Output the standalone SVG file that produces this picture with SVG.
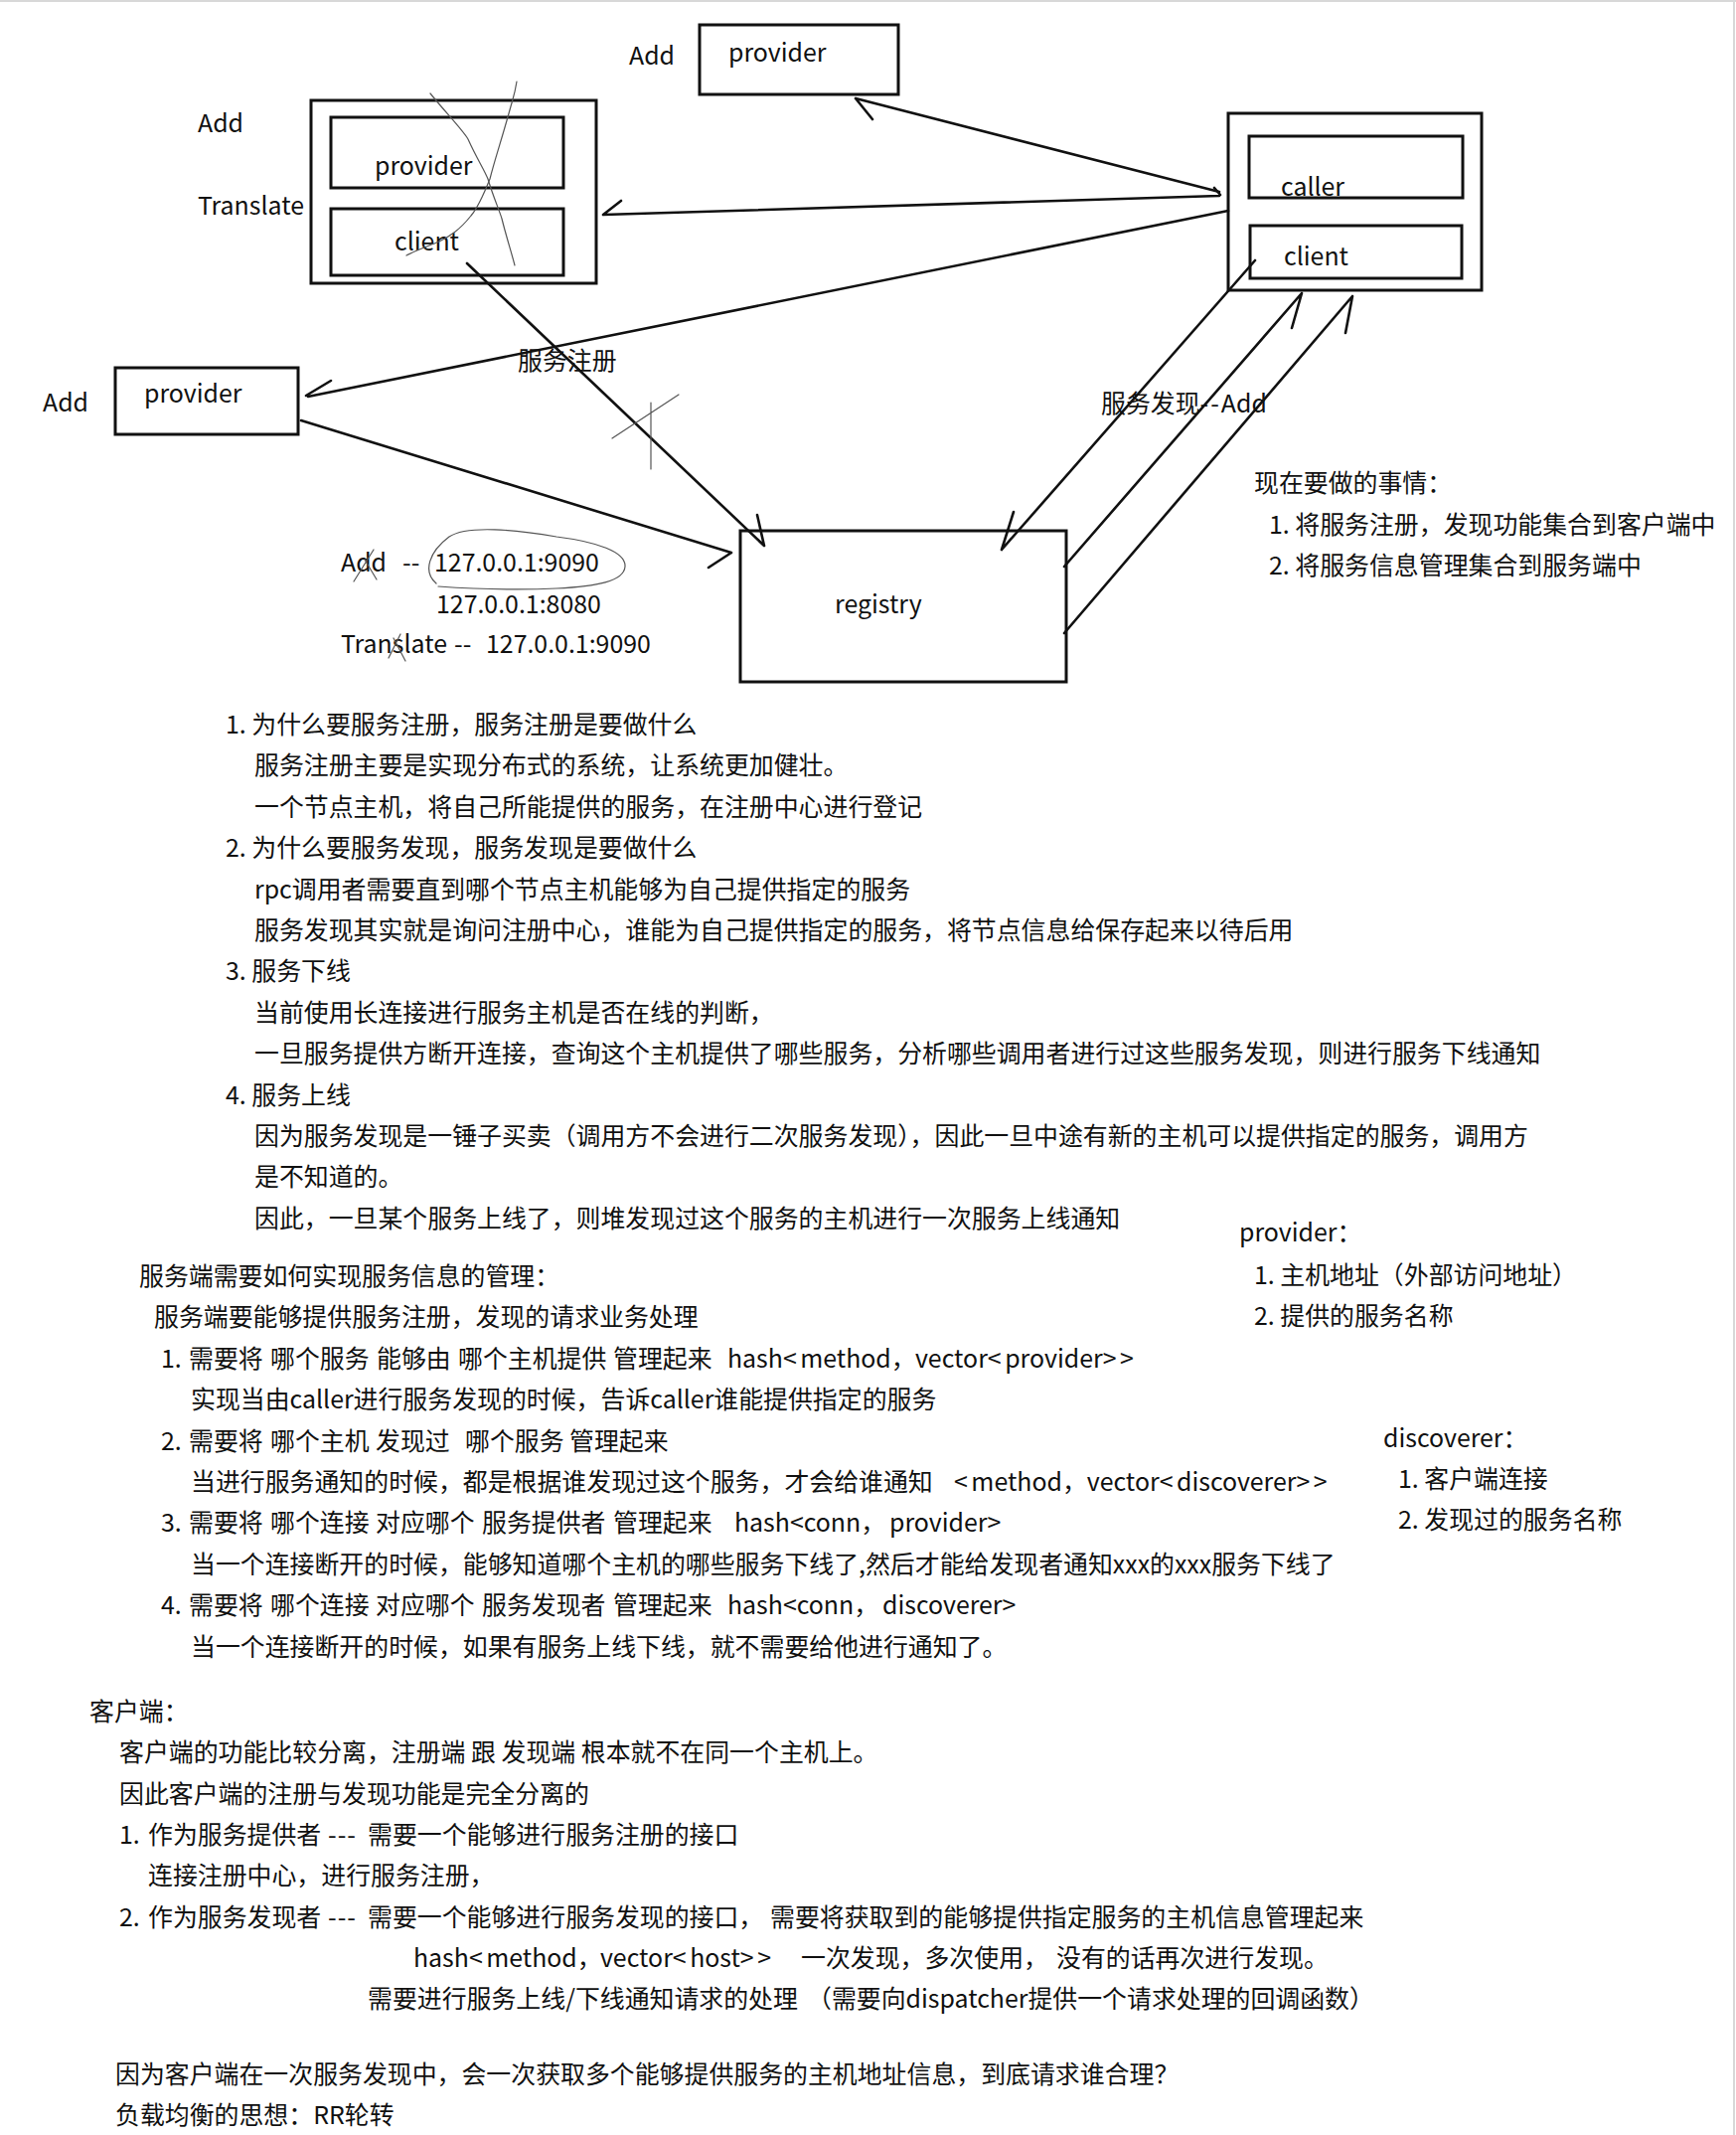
<svg xmlns="http://www.w3.org/2000/svg" width="1747" height="2148" viewBox="0 0 1747 2148">
<style>
  text { font-family: "Noto Sans CJK SC", "Noto Sans", sans-serif; font-size: 24.9px; fill: #111; }
  .br { letter-spacing: 3.5px; }
  .box { fill: none; stroke: #111; stroke-width: 3; }
  .ln { fill: none; stroke: #111; stroke-width: 2.6; stroke-linecap: round; stroke-linejoin: round; }
  .pen { fill: none; stroke: #555; stroke-width: 1.2; stroke-linecap: round; }
  .frame { stroke: #d8d8d8; stroke-width: 2; }
</style>
<rect width="1747" height="2148" fill="#fff"/>
<line class="frame" x1="0" y1="1" x2="1747" y2="1"/>
<line class="frame" x1="1745" y1="0" x2="1745" y2="2148"/>

<g id="connectors">
  <!-- client (left box) to registry : 服务注册 -->
  <path class="ln" d="M470,265 L769,549 M762,518 L769,549"/>
  <!-- right box to top provider -->
  <path class="ln" d="M1227,193 L861,99 M878,120 L861,99"/>
  <!-- right box to left composite box -->
  <path class="ln" d="M1227,197 L607,216 M625,202 L607,216 M1222,189 L1228,196"/>
  <!-- right box to bottom provider -->
  <path class="ln" d="M1236,212 L310,399 M333,383 L308,398"/>
  <!-- bottom provider to registry -->
  <path class="ln" d="M303,423 L736,556 M713,571 L736,556"/>
  <!-- client (right) to registry : 服务发现 -->
  <path class="ln" d="M1263,262 L1008,553 M1020,515 L1008,553"/>
  <!-- registry to right box -->
  <path class="ln" d="M1071,570 L1310,295 M1300,330 L1310,295"/>
  <path class="ln" d="M1071,637 L1361,298 M1354,335 L1361,298"/>
  <!-- pen marks -->
  <path class="pen" d="M655,405 L655,472 M683,397 L616,441"/>
</g>

<g id="provider-top">
  <text x="633" y="65">Add</text>
  <rect class="box" x="704" y="25" width="200" height="70"/>
  <text x="733" y="62">provider</text>
</g>

<g id="provider-client-box">
  <text x="199" y="133">Add</text>
  <text x="199" y="216">Translate</text>
  <rect class="box" x="313" y="101" width="287" height="184"/>
  <rect class="box" x="333" y="118" width="234" height="71"/>
  <text x="377" y="176">provider</text>
  <rect class="box" x="333" y="210" width="234" height="67"/>
  <text x="397" y="252">client</text>
  <path class="pen" d="M433,94 C450,115 465,130 471,140 C480,160 487,170 491,180 C497,200 502,210 505,220 C510,240 515,255 518,267"/>
  <path class="pen" d="M520,82 C518,95 516,100 514,107 C505,140 498,160 493,180 C485,200 480,210 474,217 C462,232 452,238 442,243 C430,248 418,252 409,257"/>
</g>

<g id="caller-client-box">
  <rect class="box" x="1236" y="114" width="255" height="178"/>
  <rect class="box" x="1257" y="137" width="215" height="62"/>
  <text x="1289" y="197">caller</text>
  <rect class="box" x="1258" y="227" width="213" height="53"/>
  <text x="1292" y="267">client</text>
</g>

<g id="provider-bottom">
  <text x="43" y="414">Add</text>
  <rect class="box" x="116" y="370" width="184" height="67"/>
  <text x="145" y="405">provider</text>
</g>

<g id="registry">
  <rect class="box" x="745" y="534" width="328" height="152"/>
  <text x="840" y="617">registry</text>
</g>

<g id="labels">
  <text x="521" y="372">服务注册</text>
  <text x="1108" y="415">服务发现<tspan letter-spacing="2">--</tspan>Add</text>
</g>

<g id="address-notes">
  <text x="343" y="575">Add</text>
  <text x="405" y="575">--</text>
  <text x="437" y="575">127.0.0.1:9090</text>
  <text x="439" y="617">127.0.0.1:8080</text>
  <text x="343" y="657">Translate<tspan x="457">--</tspan><tspan x="489">127.0.0.1:9090</tspan></text>
  <path class="pen" d="M439,587 C425,575 432,555 452,540 C470,528 520,533 560,540 C600,545 630,555 629,570 C628,585 600,590 560,592 C520,594 470,592 441,590"/>
  <path class="pen" d="M356,585 L376,553 M367,563 L379,583"/>
  <path class="pen" d="M391,662 L403,638 M396,642 L408,665"/>
</g>

<g id="todo-notes">
  <text x="1262" y="495">现在要做的事情：</text>
  <text x="1277" y="537">1. 将服务注册，发现功能集合到客户端中</text>
  <text x="1277" y="578">2. 将服务信息管理集合到服务端中</text>
</g>

<g id="section-questions">
  <text x="227" y="738">1. 为什么要服务注册，服务注册是要做什么</text>
  <text x="256" y="779">服务注册主要是实现分布式的系统，让系统更加健壮。</text>
  <text x="256" y="821">一个节点主机，将自己所能提供的服务，在注册中心进行登记</text>
  <text x="227" y="862">2. 为什么要服务发现，服务发现是要做什么</text>
  <text x="256" y="904">rpc调用者需要直到哪个节点主机能够为自己提供指定的服务</text>
  <text x="256" y="945">服务发现其实就是询问注册中心，谁能为自己提供指定的服务，将节点信息给保存起来以待后用</text>
  <text x="227" y="986">3. 服务下线</text>
  <text x="256" y="1028">当前使用长连接进行服务主机是否在线的判断，</text>
  <text x="256" y="1069">一旦服务提供方断开连接，查询这个主机提供了哪些服务，分析哪些调用者进行过这些服务发现，则进行服务下线通知</text>
  <text x="227" y="1111">4. 服务上线</text>
  <text x="256" y="1152">因为服务发现是一锤子买卖（调用方不会进行二次服务发现），因此一旦中途有新的主机可以提供指定的服务，调用方</text>
  <text x="256" y="1193">是不知道的。</text>
  <text x="256" y="1235">因此，一旦某个服务上线了，则堆发现过这个服务的主机进行一次服务上线通知</text>
</g>

<g id="provider-notes">
  <text x="1247" y="1249">provider：</text>
  <text x="1262" y="1292">1. 主机地址（外部访问地址）</text>
  <text x="1262" y="1333">2. 提供的服务名称</text>
</g>

<g id="section-server">
  <text x="140" y="1293">服务端需要如何实现服务信息的管理：</text>
  <text x="155" y="1334">服务端要能够提供服务注册，发现的请求业务处理</text>
  <text x="162" y="1376">1. <tspan x="190">需要将</tspan><tspan x="272">哪个服务</tspan><tspan x="379">能够由</tspan><tspan x="461">哪个主机提供</tspan><tspan x="617">管理起来</tspan><tspan x="732">hash<tspan class="br">&lt;</tspan>method，</tspan><tspan x="921">vector<tspan class="br">&lt;</tspan>provider<tspan class="br">&gt;&gt;</tspan></tspan></text>
  <text x="192" y="1417">实现当由caller进行服务发现的时候，告诉caller谁能提供指定的服务</text>
  <text x="162" y="1459">2. <tspan x="190">需要将</tspan><tspan x="272">哪个主机</tspan><tspan x="378">发现过</tspan><tspan x="468">哪个服务</tspan><tspan x="573">管理起来</tspan></text>
  <text x="192" y="1500">当进行服务通知的时候，都是根据谁发现过这个服务，才会给谁通知<tspan x="960"><tspan class="br">&lt;</tspan>method，vector<tspan class="br">&lt;</tspan>discoverer<tspan class="br">&gt;&gt;</tspan></tspan></text>
  <text x="162" y="1541">3. <tspan x="190">需要将</tspan><tspan x="272">哪个连接</tspan><tspan x="378">对应哪个</tspan><tspan x="485">服务提供者</tspan><tspan x="617">管理起来</tspan><tspan x="739">hash&lt;conn，</tspan><tspan x="895">provider&gt;</tspan></text>
  <text x="192" y="1583">当一个连接断开的时候，能够知道哪个主机的哪些服务下线了,然后才能给发现者通知xxx的xxx服务下线了</text>
  <text x="162" y="1624">4. <tspan x="190">需要将</tspan><tspan x="272">哪个连接</tspan><tspan x="378">对应哪个</tspan><tspan x="485">服务发现者</tspan><tspan x="617">管理起来</tspan><tspan x="732">hash&lt;conn，</tspan><tspan x="888">discoverer&gt;</tspan></text>
  <text x="192" y="1666">当一个连接断开的时候，如果有服务上线下线，就不需要给他进行通知了。</text>
</g>

<g id="discoverer-notes">
  <text x="1392" y="1456">discoverer：</text>
  <text x="1407" y="1497">1. 客户端连接</text>
  <text x="1407" y="1538">2. 发现过的服务名称</text>
</g>

<g id="section-client">
  <text x="90" y="1731">客户端：</text>
  <text x="120" y="1772">客户端的功能比较分离，注册端 跟 发现端 根本就不在同一个主机上。</text>
  <text x="120" y="1814">因此客户端的注册与发现功能是完全分离的</text>
  <text x="120" y="1855">1. <tspan x="149">作为服务提供者</tspan><tspan x="330" letter-spacing="1">---</tspan><tspan x="370">需要一个能够进行服务注册的接口</tspan></text>
  <text x="149" y="1896">连接注册中心，进行服务注册，</text>
  <text x="120" y="1938">2. <tspan x="149">作为服务发现者</tspan><tspan x="330" letter-spacing="1">---</tspan><tspan x="370">需要一个能够进行服务发现的接口，</tspan><tspan x="775">需要将获取到的能够提供指定服务的主机信息管理起来</tspan></text>
  <text x="416" y="1979">hash<tspan class="br">&lt;</tspan>method，<tspan x="604">vector<tspan class="br">&lt;</tspan>host<tspan class="br">&gt;&gt;</tspan></tspan><tspan x="806">一次发现，多次使用，</tspan><tspan x="1063">没有的话再次进行发现。</tspan></text>
  <text x="370" y="2020">需要进行服务上线/下线通知请求的处理<tspan x="812">（需要向dispatcher提供一个请求处理的回调函数）</tspan></text>
  <text x="116" y="2096">因为客户端在一次服务发现中，会一次获取多个能够提供服务的主机地址信息，到底请求谁合理？</text>
  <text x="116" y="2137">负载均衡的思想：RR轮转</text>
</g>
</svg>
